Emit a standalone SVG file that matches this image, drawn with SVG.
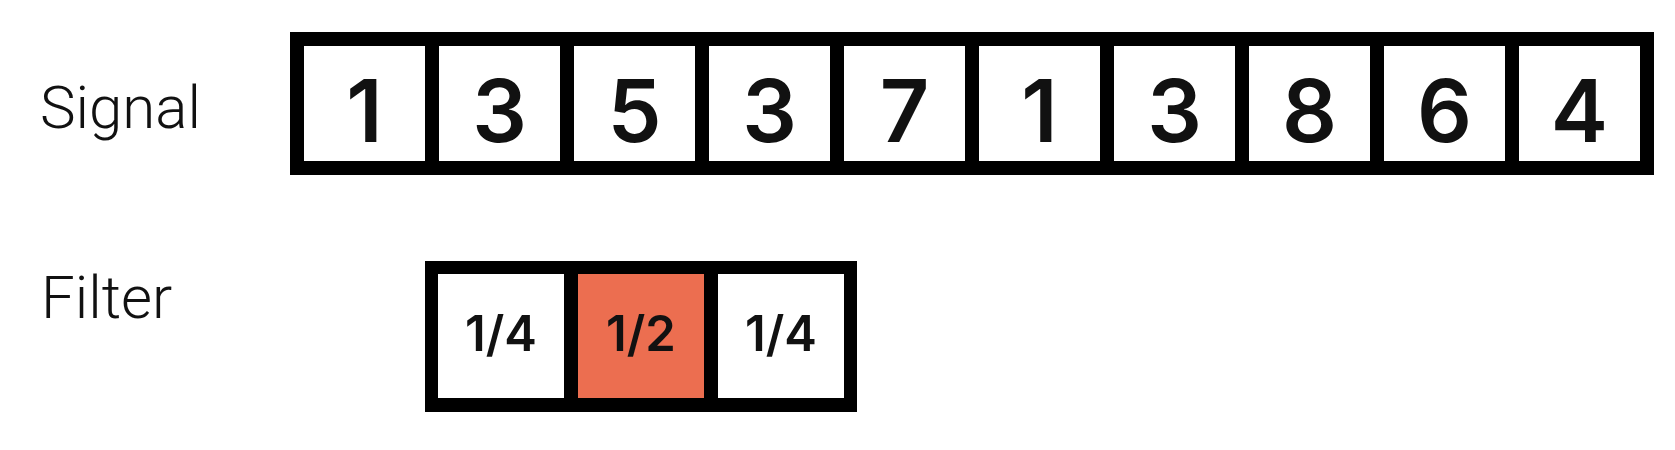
<svg xmlns="http://www.w3.org/2000/svg" width="1675" height="450" viewBox="0 0 1675 450">
<style>
.frame{fill:#000}
.cell{fill:#fff}
.hot{fill:#EC6E50}
.label{font-family:Roboto,"Liberation Sans",sans-serif;font-weight:300;font-size:60px;fill:#111}
.num{font-family:Inter,"Liberation Sans",sans-serif;font-weight:600;font-size:86px;fill:#111;text-anchor:middle}
.frac{font-family:Inter,"Liberation Sans",sans-serif;font-weight:600;font-size:49px;fill:#111;text-anchor:middle}
</style>
<rect width="1675" height="450" fill="#fff"/>
<g id="signal-label"><text class="label" x="40" y="128">Signal</text></g>
<g id="filter-label"><text class="label" x="41" y="318">Filter</text></g>
<g id="signal">
<rect class="frame" x="290" y="32" width="1364" height="143"/>
<g id="s0"><rect class="cell" x="304" y="46" width="121" height="115"/><text class="num" x="364.5" y="142">1</text></g>
<g id="s1"><rect class="cell" x="439" y="46" width="121" height="115"/><text class="num" x="499.5" y="142">3</text></g>
<g id="s2"><rect class="cell" x="574" y="46" width="121" height="115"/><text class="num" x="634.5" y="142">5</text></g>
<g id="s3"><rect class="cell" x="709" y="46" width="121" height="115"/><text class="num" x="769.5" y="142">3</text></g>
<g id="s4"><rect class="cell" x="844" y="46" width="121" height="115"/><text class="num" x="904.5" y="142">7</text></g>
<g id="s5"><rect class="cell" x="979" y="46" width="121" height="115"/><text class="num" x="1039.5" y="142">1</text></g>
<g id="s6"><rect class="cell" x="1114" y="46" width="121" height="115"/><text class="num" x="1174.5" y="142">3</text></g>
<g id="s7"><rect class="cell" x="1249" y="46" width="121" height="115"/><text class="num" x="1309.5" y="142">8</text></g>
<g id="s8"><rect class="cell" x="1384" y="46" width="121" height="115"/><text class="num" x="1444.5" y="142">6</text></g>
<g id="s9"><rect class="cell" x="1519" y="46" width="121" height="115"/><text class="num" x="1579.5" y="142">4</text></g>
</g>
<g id="filter">
<rect class="frame" x="425" y="261" width="432" height="151"/>
<g id="f0"><rect class="cell" x="438" y="274" width="126" height="124"/><text class="frac" x="501" y="351">1/4</text></g>
<g id="f1"><rect class="hot" x="578" y="274" width="126" height="124"/><text class="frac" x="641" y="351">1/2</text></g>
<g id="f2"><rect class="cell" x="718" y="274" width="126" height="124"/><text class="frac" x="781" y="351">1/4</text></g>
</g>
<g id="connectors"/>
</svg>
